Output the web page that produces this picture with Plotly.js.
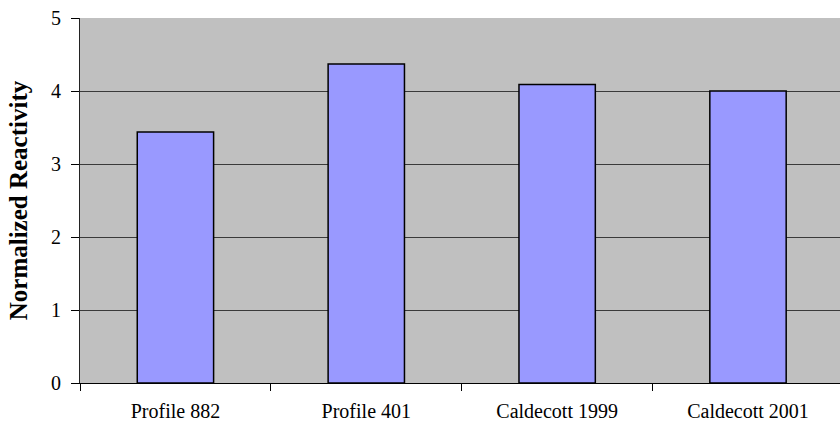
<!DOCTYPE html>
<html>
<head>
<meta charset="utf-8">
<script src="https://cdn.plot.ly/plotly-3.0.1.min.js"></script>
<style>
  html, body { margin: 0; padding: 0; background: #ffffff; }
  #chart { width: 840px; height: 425px; }
</style>
</head>
<body>
<div id="chart"></div>
<script>
// Normalized reactivity by sample
const categories = ['Profile 882', 'Profile 401', 'Caldecott 1999', 'Caldecott 2001'];
const reactivity = [3.44, 4.37, 4.09, 4.00];
const yTicks = [0, 1, 2, 3, 4, 5];

const serif = 'Liberation Serif, Times New Roman, serif';

const trace = {
  type: 'bar',
  x: categories,
  y: reactivity,
  marker: {
    color: '#9999FF',
    line: { color: '#000000', width: 1.5 }
  },
  hoverinfo: 'skip'
};

const layout = {
  width: 840,
  height: 425,
  margin: { l: 80, r: 0, t: 18, b: 42 },
  paper_bgcolor: '#ffffff',
  plot_bgcolor: '#C0C0C0',
  bargap: 0.6,
  showlegend: false,
  font: { family: serif, size: 20, color: '#000000' },
  xaxis: {
    type: 'category',
    range: [-0.5, 3.482],
    tickson: 'boundaries',
    ticks: 'outside',
    ticklen: 7,
    tickwidth: 1,
    tickcolor: '#000000',
    ticklabelstandoff: 10,
    showline: true,
    linecolor: '#000000',
    linewidth: 1,
    showgrid: false,
    zeroline: false,
    tickfont: { family: serif, size: 20, color: '#000000' },
    fixedrange: true
  },
  yaxis: {
    range: [0, 5],
    tickvals: yTicks,
    ticktext: yTicks.map(String),
    ticks: 'outside',
    ticklen: 8,
    tickwidth: 1,
    tickcolor: '#000000',
    ticklabelstandoff: 6,
    showline: true,
    linecolor: '#222222',
    linewidth: 1,
    showgrid: true,
    gridcolor: '#3a3a3a',
    gridwidth: 1,
    zeroline: false,
    tickfont: { family: serif, size: 20, color: '#000000' },
    title: {
      text: '<b>Normalized Reactivity</b>',
      font: { family: serif, size: 25, color: '#000000' },
      standoff: 16
    },
    fixedrange: true
  }
};

Plotly.newPlot('chart', [trace], layout, { staticPlot: true, displayModeBar: false });
</script>
</body>
</html>
